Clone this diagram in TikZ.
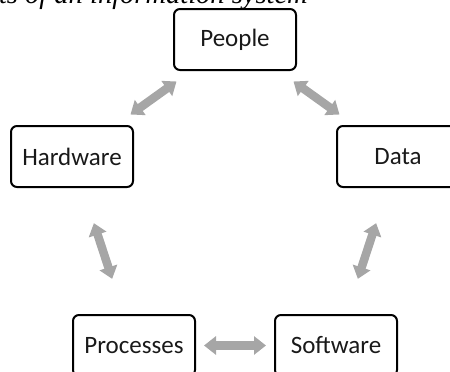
\documentclass[tikz,border=0pt]{standalone}
\usepackage{fontspec}
\setmainfont{Liberation Serif}
\newfontfamily\boxfont{Carlito}
\usetikzlibrary{arrows.meta}
\definecolor{linkgray}{RGB}{166,166,166}
\definecolor{inktext}{RGB}{25,25,25}
\tikzset{
  compbox/.style={draw=black, line width=2pt, rounded corners=6pt,
    minimum width=122pt, minimum height=61pt, inner sep=0pt,
    font=\boxfont\fontsize{25}{30}\selectfont, text=inktext},
  link/.style={draw=linkgray, line width=8.5pt,
    {Triangle[width=18pt,length=12pt]}-{Triangle[width=18pt,length=12pt]}}
}
\begin{document}
\begin{tikzpicture}[x=1pt, y=-1pt]
  \useasboundingbox (0,0) rectangle (450,372);
  \clip (0,0) rectangle (450,372);

  % caption line (top partly outside the frame)
  \node[anchor=base east, inner sep=0pt, font=\itshape\fontsize{28.5}{34}\selectfont]
    (caption) at (308,3) {Components of an information system};

  % the five components
  \node[compbox] (people)    at (235,39.5)  {People};
  \node[compbox] (hardware)  at (72,156.5)  {Hardware};
  \node[compbox] (data)      at (398,156.5) {Data};
  \node[compbox] (processes) at (134,345.5) {Processes};
  \node[compbox] (software)  at (336,345.5) {Software};

  % two-way links between neighbours
  \draw[link, shorten <=18pt, shorten >=18pt] (people) -- (hardware);
  \draw[link, shorten <=18pt, shorten >=18pt] (people) -- (data);
  \draw[link, shorten <=37pt, shorten >=37pt] (hardware) -- (processes);
  \draw[link, shorten <=37pt, shorten >=37pt] (data) -- (software);
  \draw[link, shorten <=8pt, shorten >=8pt] (processes) -- (software);
\end{tikzpicture}
\end{document}
